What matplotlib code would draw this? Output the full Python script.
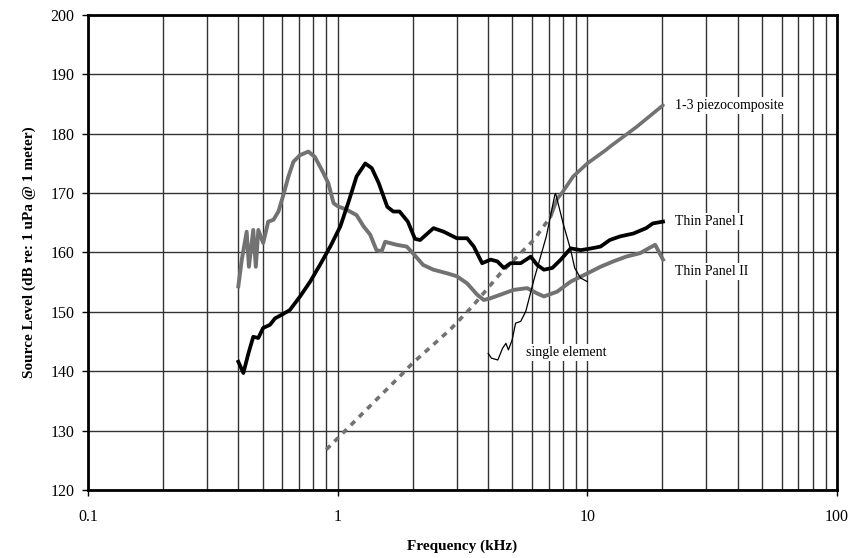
import numpy as np
import matplotlib
matplotlib.use("Agg")
import matplotlib.pyplot as plt
from matplotlib.ticker import LogLocator, FixedLocator, NullFormatter

# ---- data ----
panel2_f = [0.400, 0.413, 0.432, 0.441, 0.459, 0.470, 0.481, 0.503, 0.527, 0.553, 0.579, 0.606,
            0.635, 0.665, 0.707, 0.763, 0.810, 0.864, 0.917, 0.963, 1.00, 1.087, 1.19, 1.27, 1.35,
            1.43, 1.50, 1.55, 1.72, 1.89, 2.00, 2.20, 2.42, 2.74, 3.00, 3.30, 3.62, 3.85, 4.10,
            4.49, 5.07, 5.74, 6.30, 6.70, 7.57, 8.58, 9.70, 11.3, 12.7, 14.3, 16.3, 17.6, 18.7,
            19.3, 20.1]
panel2_db = [154.3, 158.8, 163.5, 157.6, 163.8, 157.6, 163.8, 161.6, 165.2, 165.5, 166.9, 169.7,
             172.8, 175.3, 176.4, 177.0, 176.1, 173.9, 171.7, 168.3, 167.8, 167.2, 166.3, 164.4,
             163.0, 160.4, 160.2, 161.8, 161.3, 161.0, 159.9, 157.9, 157.1, 156.5, 156.0, 154.8,
             152.9, 152.0, 152.3, 152.9, 153.7, 154.0, 153.1, 152.6, 153.4, 155.1, 156.2, 157.6,
             158.5, 159.3, 159.9, 160.7, 161.3, 160.2, 158.8]

panel1_f = [0.400, 0.419, 0.439, 0.459, 0.481, 0.503, 0.535, 0.561, 0.596, 0.643, 0.707, 0.776,
            0.849, 0.934, 1.025, 1.107, 1.19, 1.29, 1.37, 1.46, 1.58, 1.67, 1.77, 1.91, 2.04,
            2.14, 2.42, 2.66, 3.00, 3.30, 3.51, 3.79, 4.10, 4.36, 4.63, 4.93, 5.41, 5.93, 6.30,
            6.70, 7.24, 7.83, 8.58, 9.40, 10.4, 11.3, 12.3, 13.5, 15.3, 17.2, 18.3, 20.1]
panel1_db = [141.6, 139.7, 143.0, 145.8, 145.6, 147.3, 147.8, 148.9, 149.5, 150.3, 152.6, 155.1,
             157.9, 161.0, 164.4, 168.6, 172.8, 175.0, 174.2, 171.7, 167.7, 166.9, 166.9, 165.2,
             162.3, 162.1, 164.1, 163.5, 162.4, 162.4, 161.0, 158.2, 158.8, 158.5, 157.4, 158.2,
             158.2, 159.3, 157.9, 157.1, 157.4, 158.8, 160.7, 160.4, 160.7, 161.0, 162.1, 162.7,
             163.2, 164.1, 164.9, 165.2]

piezo_dash_f = [0.90, 1.77, 2.00, 2.82, 3.46, 4.49, 6.10, 7.12]
piezo_dash_db = [126.8, 139.1, 141.4, 147.0, 150.9, 156.5, 162.1, 166.0]
piezo_solid_f = [7.12, 7.57, 8.0, 8.77, 10.0, 11.9, 12.3, 15.8, 20.1]
piezo_solid_db = [166.0, 169.0, 170.3, 172.8, 175.0, 177.3, 177.8, 181.2, 184.8]

single_f = [4.01, 4.13, 4.38, 4.58, 4.72, 4.83, 5.00, 5.16, 5.41, 5.67, 6.11, 6.85, 7.41, 7.47,
            8.0, 8.58, 8.9, 9.4, 10.0]
single_db = [143.0, 142.2, 141.9, 143.9, 144.7, 143.6, 145.3, 148.1, 148.4, 150.1, 155.4, 162.7,
             169.7, 169.9, 164.9, 160.4, 157.4, 155.7, 155.1]

labels = ["1-3 piezocomposite", "Thin Panel I", "Thin Panel II", "single element"]
label_pos = [(22.4, 184.8), (22.4, 165.2), (22.4, 156.8), (5.68, 143.1)]

xticks = [0.1, 1, 10, 100]
xticklabels = ["0.1", "1", "10", "100"]
yticks = list(range(120, 201, 10))

# ---- drawing ----
plt.rcParams['font.family'] = ['Liberation Serif', 'DejaVu Serif']
fig = plt.figure(figsize=(8.53, 5.58), dpi=100)
ax = fig.add_axes([0.1032, 0.1219, 0.8780, 0.8512])
ax.set_xscale('log')
ax.set_xlim(0.1, 100)
ax.set_ylim(120, 200)

gray = '#727272'
ax.plot(piezo_dash_f, piezo_dash_db, color=gray, lw=2.6, ls=(0, (1.6, 1.6)), zorder=3)
ax.plot(piezo_solid_f, piezo_solid_db, color=gray, lw=2.6, zorder=3, solid_capstyle='round')
ax.plot(panel2_f, panel2_db, color=gray, lw=2.8, zorder=3, solid_joinstyle='round')
ax.plot(panel1_f, panel1_db, color='black', lw=2.7, zorder=4, solid_joinstyle='round')
ax.plot(single_f, single_db, color='black', lw=0.9, zorder=5)

for t, (fx, fy) in zip(labels, label_pos):
    ax.text(fx, fy, t, fontsize=10, va='center', ha='left', zorder=6,
            bbox=dict(facecolor='white', edgecolor='none', pad=1.5))

ax.xaxis.set_major_locator(FixedLocator(xticks))
ax.set_xticklabels(xticklabels)
ax.xaxis.set_minor_locator(LogLocator(base=10, subs=np.arange(2, 10), numticks=20))
ax.xaxis.set_minor_formatter(NullFormatter())
ax.set_yticks(yticks)

ax.grid(True, which='major', axis='both', color='#333333', lw=1.0, zorder=1)
ax.grid(True, which='minor', axis='x', color='#333333', lw=1.0, zorder=1)
ax.set_axisbelow(True)

for s in ax.spines.values():
    s.set_linewidth(2.0)
    s.set_color('black')

ax.tick_params(axis='both', which='major', direction='out', length=4, width=1,
               labelsize=11.5, pad=6)
ax.tick_params(axis='x', which='minor', length=0)
ax.tick_params(axis='x', which='major', pad=10)

ax.set_xlabel('Frequency (kHz)', fontsize=11, fontweight='bold', labelpad=10)
ax.set_ylabel('Source Level (dB re: 1 uPa @ 1 meter)', fontsize=11, fontweight='bold', labelpad=10)

fig.savefig('out.png', dpi=100)
